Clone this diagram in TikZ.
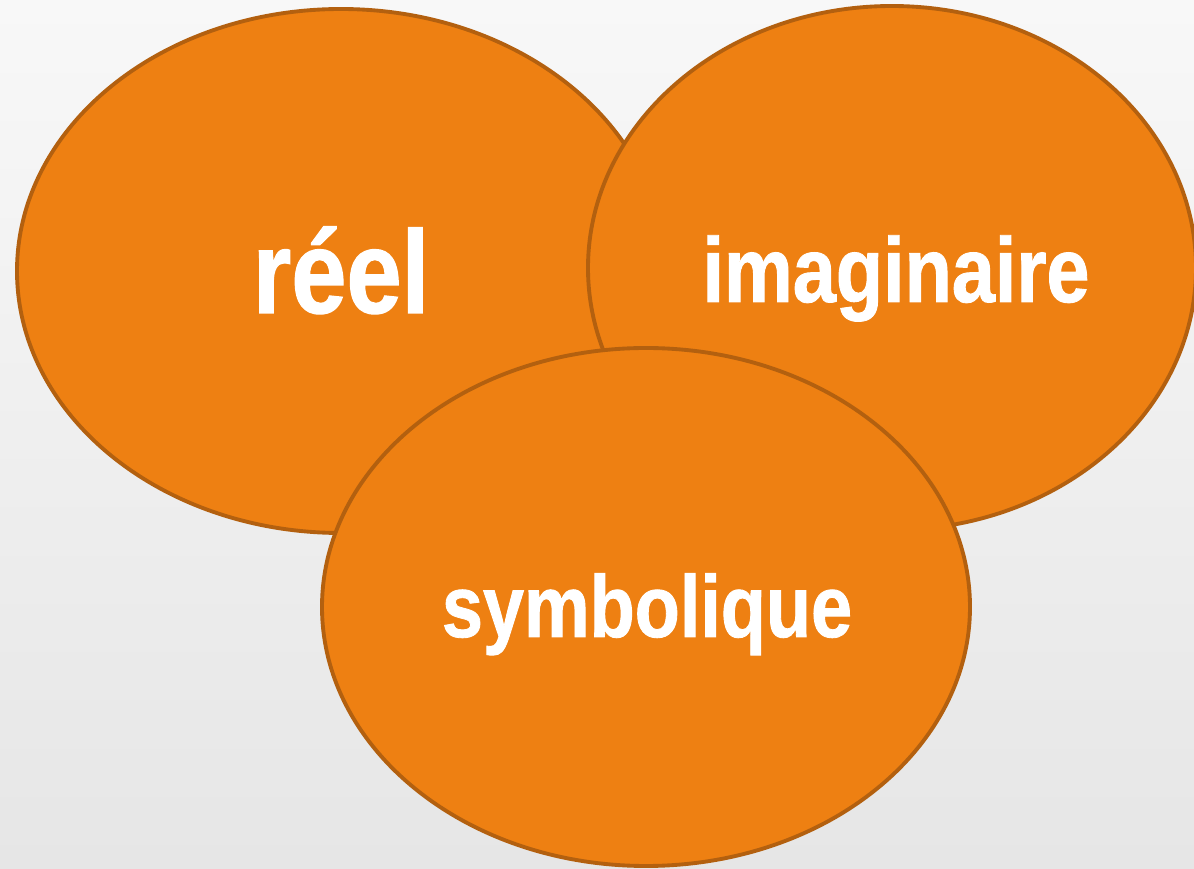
\documentclass[tikz,border=0pt]{standalone}
\usepackage{fontspec}
\usepackage{tikz}
\usetikzlibrary{shapes.geometric}
\newfontfamily\regfont{Liberation Sans}[FakeStretch=0.84, FakeBold=1]
\definecolor{mOrange}{HTML}{EE8012}
\definecolor{mRust}{HTML}{B3600F}
\definecolor{mBgTop}{HTML}{F8F8F8}
\definecolor{mBgBottom}{HTML}{E6E6E6}

\begin{document}
\begin{tikzpicture}[
  register/.style={
    ellipse,
    fill=mOrange,
    draw=mRust,
    line width=1.1pt,
    inner sep=0pt
  },
  regname/.style={
    anchor=base,
    text=white,
    inner sep=0pt,
    font=\regfont\bfseries
  }
]

% background
\fill[top color=mBgTop, bottom color=mBgBottom] (0,0) rectangle (11.94,-8.69);
\useasboundingbox (0,0) rectangle (11.94,-8.69);

\node[register, minimum width=6.48cm, minimum height=5.24cm] (reel) at (3.41,-2.71) {};
\node[register, minimum width=6.08cm, minimum height=5.24cm] (imag) at (8.92,-2.68) {};
\node[register, minimum width=6.48cm, minimum height=5.18cm] (symb) at (6.46,-6.07) {};

\node[regname] (reeltext) at (3.41,-3.13) {\fontsize{33.6pt}{37pt}\selectfont réel};
\node[regname] (imagtext) at (8.96,-3.02) {\fontsize{26.2pt}{30pt}\selectfont imaginaire};
\node[regname] (symbtext) at (6.47,-6.37) {\fontsize{25pt}{29pt}\selectfont symbolique};

\end{tikzpicture}
\end{document}
